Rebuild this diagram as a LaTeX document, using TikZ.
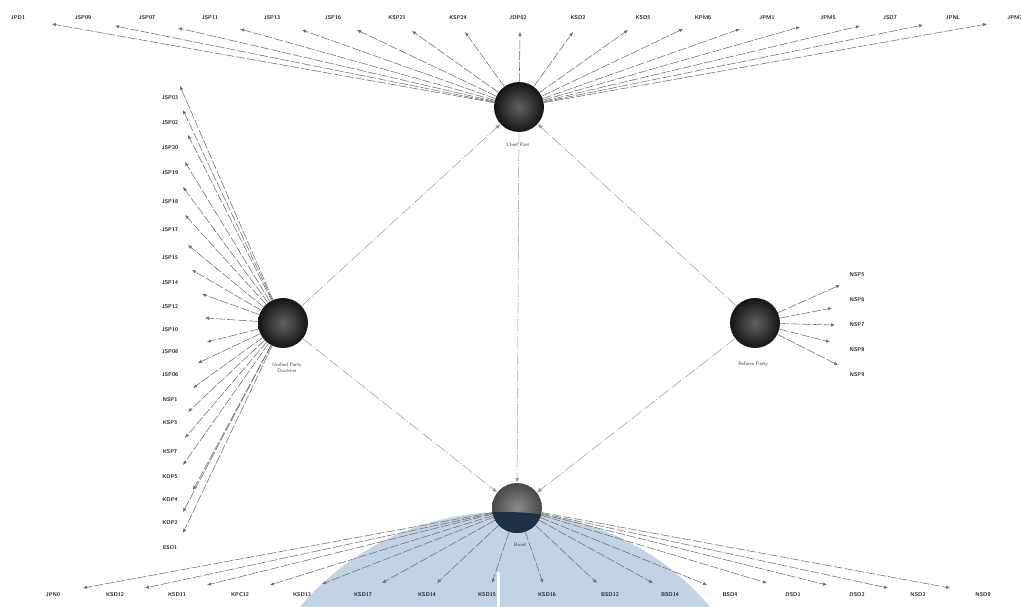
\documentclass[tikz,border=0pt]{standalone}
\usepackage{xcolor}
\usepackage{tikz}
\usetikzlibrary{arrows.meta}
\definecolor{netblue}{HTML}{C3D3E6}
\definecolor{netnavy}{HTML}{1E3147}
\definecolor{netgray}{HTML}{6E6E6E}
\definecolor{netlight}{HTML}{9A9A9A}
\definecolor{nettext}{HTML}{222222}

\begin{document}
\begin{tikzpicture}[x=1pt,y=-1pt,
  font=\sffamily\fontsize{5}{6}\selectfont,
  hub/.style={circle,minimum size=50pt,inner sep=0pt,inner color=black!62,outer color=black!92},
  leaf/.style={font=\sffamily\bfseries\fontsize{5.5}{6.5}\selectfont,text=nettext,inner sep=1pt},
  hubtag/.style={align=center,font=\sffamily\fontsize{5}{6}\selectfont,text=black!75},
  fan/.style={-{Latex[length=4pt,width=3.5pt]},draw=netgray,line width=0.55pt,dash pattern=on 9pt off 2pt},
  tie/.style={-{Latex[length=5pt,width=4pt]},draw=netlight,line width=0.5pt,dash pattern=on 12pt off 2pt on 1pt off 2pt}
]
\useasboundingbox[fill=white] (0,0) rectangle (1021,607);
\fill[netblue] (505,781) circle (269pt);
\fill[white] (497,572) rectangle (500,607);

\node[hub] (chief) at (519,107) {};
\node[hub] (union) at (283,323) {};
\node[hub] (reform) at (755,323) {};
\node[hub,inner color=black!45,outer color=black!72] (bond) at (517,508) {};
\begin{scope}
  \clip (505,781) circle (269pt);
  \fill[netnavy] (bond.center) circle (25pt);
\end{scope}

\node[hubtag] (chieftag) at (518,145) {Chief Part};
\node[hubtag] (uniontag) at (287,368) {Unified Party\\Doctrine};
\node[hubtag] (reformtag) at (753,364) {Reform Party};
\node[hubtag] (bondtag) at (520,545) {Bond};

\draw[tie] (union) -- (chief);
\draw[tie] (reform) -- (chief);
\draw[tie] (chief) -- (bond);
\draw[tie] (union) -- (bond);
\draw[tie] (reform) -- (bond);

\foreach \ax/\ay/\lx/\t [count=\i] in {52/24/18/JPD1, 115/26/83/JSP09, 178/28/147/JSP07,
  240/29/210/JSP11, 302/30/272/JSP13, 357/30/333/JSP16, 412/31/397/KSP21, 465/32/458/KSP24,
  520/32/518/JDP02, 573/32/578/KSD2, 628/30/643/KSD5, 683/29/703/KPM6, 740/29/767/JPM1,
  800/27/828/JPM5, 860/26/890/JSD7, 923/25/953/JPNL, 987/24/1015/JPM2}{
  \coordinate (t\i) at (\ax,\ay);
  \node[leaf] (tl\i) at (\lx,18) {\t};
  \draw[fan] (chief) -- (t\i);
}

\foreach \ly/\ax/\ay/\t [count=\i] in {98/180/86/JSP03, 123/183/110/JSP02, 148/188/135/JSP20,
  173/185/162/JSP19, 202/183/187/JSP18, 230/185/215/JSP17, 258/188/245/JSP15, 283/192/270/JSP14,
  307/202/294/JSP12, 330/205/318/JSP10, 352/207/342/JSP08, 375/198/363/JSP06, 400/193/388/NSP1,
  423/188/412/KSP3, 452/185/438/KSP7, 477/183/465/KDP5, 500/193/490/KDP4, 523/183/512/KDP2,
  548/183/533/ESD1}{
  \coordinate (l\i) at (\ax,\ay);
  \node[leaf] (ll\i) at (170,\ly) {\t};
  \draw[fan] (union) -- (l\i);
}

\foreach \ly/\ax/\ay/\t [count=\i] in {275/840/285/NSP5, 300/832/308/NSP6, 325/835/325/NSP7,
  350/830/342/NSP8, 375/838/365/NSP9}{
  \coordinate (r\i) at (\ax,\ay);
  \node[leaf] (rl\i) at (857,\ly) {\t};
  \draw[fan] (reform) -- (r\i);
}

\foreach \ax/\ay/\lx/\t [count=\i] in {83/588/53/JPN0, 145/588/115/KSD12, 207/585/177/KSD11,
  270/585/240/KPC12, 322/584/302/KSD13, 382/583/363/KSD17, 437/583/427/KSD14, 492/583/487/KSD15,
  543/583/547/KSD16, 597/583/610/BSD12, 653/583/670/BSD14, 707/585/730/BSD4, 767/583/793/DSD1,
  827/585/857/DSD2, 888/588/918/NSD2, 950/588/983/NSD9}{
  \coordinate (b\i) at (\ax,\ay);
  \node[leaf] (bl\i) at (\lx,595) {\t};
  \draw[fan] (bond) -- (b\i);
}
\end{tikzpicture}
\end{document}
